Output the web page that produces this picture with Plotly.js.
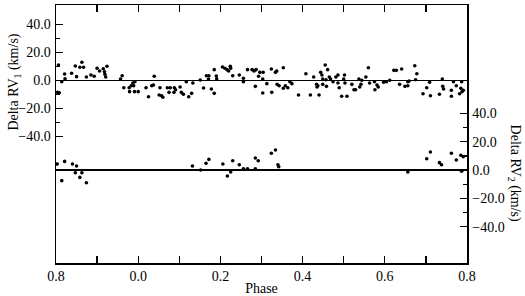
<!DOCTYPE html>
<html>
<head>
<meta charset="utf-8">
<script src="https://cdn.plot.ly/plotly-3.0.1.min.js"></script>
<style>html,body{margin:0;padding:0;background:#fff;}#chart{width:525px;height:296px;}</style>
</head>
<body>
<div id="chart"></div>
<script>
// Primary component: orbital phase and RV residuals (km/s)
const phase1 = [0.804,0.806,0.808,0.814,0.821,0.822,0.838,0.847,0.850,0.858,0.863,0.867,0.874,0.885,0.893,0.900,0.906,0.915,0.918,0.919,0.921,0.924,0.957,0.961,0.965,0.978,0.983,0.987,0.989,0.992,0.979,0.991,0.000,0.019,0.025,0.033,0.039,0.037,0.051,
0.053,0.057,0.060,0.071,0.078,0.075,0.088,0.091,0.087,0.102,0.105,0.110,0.117,0.123,0.130,0.133,0.151,0.159,0.166,0.172,0.171,0.178,0.185,0.185,0.190,0.191,0.205,0.211,0.216,0.220,0.224,0.225,0.230,0.246,0.256,0.256,0.266,0.277,0.282,0.287,0.285,0.293,0.296,0.303,
0.304,0.303,0.313,0.324,0.325,0.334,0.337,0.338,0.343,0.353,0.353,0.358,0.364,0.369,0.374,0.390,0.408,0.419,0.427,0.434,0.435,0.437,0.440,0.444,0.447,0.449,0.449,0.455,0.457,0.458,0.461,0.465,0.468,0.474,0.481,0.486,0.489,0.486,0.495,0.500,0.502,0.503,0.508,0.520,0.525,0.529,0.537,0.539,0.542,0.544,0.554,
0.560,0.563,0.575,0.576,0.581,0.584,0.597,0.604,0.612,0.622,0.628,0.636,0.641,0.649,0.656,0.656,0.659,0.673,0.675,0.678,0.693,0.702,0.709,0.711,0.733,0.740,0.741,0.743,0.762,0.762,0.767,0.774,0.782,0.785,0.787,0.788,0.791];
const dRV1 = [-8.6,10.9,-8.9,-1.0,4.5,1.0,5.0,10.2,2.6,9.3,12.9,9.3,2.4,3.8,2.9,8.6,6.6,8.3,6.1,4.3,2.4,10.0,0.9,3.3,-5.3,-5.3,-3.9,-1.9,-3.9,-1.0,-8.1,-8.1,-8.1,-5.3,-11.7,-3.9,2.9,-3.4,-10.5,
-5.3,-11.0,-12.1,-5.3,-5.3,-8.6,-5.3,-6.7,-8.6,-4.8,-8.6,-10.0,-1.0,-11.7,-9.3,-1.9,0.2,-5.5,3.3,3.3,0.9,-6.2,-9.3,7.6,3.1,1.1,9.5,8.6,7.6,6.6,10.0,8.6,3.3,3.8,1.4,-1.0,7.6,7.6,6.6,7.6,-4.3,2.9,5.7,-9.1,
5.7,0.9,-2.4,8.1,-8.6,5.7,6.6,-2.9,-3.9,9.0,-5.7,-3.9,-5.3,-1.0,-2.4,-10.5,4.7,-10.5,2.4,-2.9,-4.8,-3.9,-10.5,5.7,3.8,0.9,-2.9,10.9,0.4,-4.3,7.6,2.4,0.9,-1.0,2.4,3.8,-5.3,-1.9,-11.4,0.9,3.8,-1.9,-11.4,-2.9,-6.7,-6.7,0.9,-4.8,-2.9,0.0,2.4,
9.0,-1.9,-1.0,-6.7,-3.4,-4.8,-1.4,-1.0,0.0,7.1,7.1,-2.9,8.1,-4.3,-3.9,-1.0,-0.5,10.4,0.4,4.7,-9.6,-5.3,-1.4,-11.0,-10.0,0.9,-4.3,-6.2,-7.1,-11.4,-1.0,-3.9,-9.6,-5.7,-1.0,-8.1,-7.1];

// Secondary component
const phase2 = [0.803,0.814,0.821,0.840,0.847,0.850,0.858,0.863,0.874,0.132,0.152,0.165,0.172,0.206,0.217,0.225,0.230,0.246,0.256,0.266,0.285,0.285,0.292,0.324,0.334,0.340,0.342,0.656,0.702,0.711,0.733,0.738,0.762,0.774,0.785,0.791,0.787];
const dRV2 = [4.2,-7.5,6.1,4.2,-1.9,2.8,-5.2,-1.9,-9.0,2.8,0.0,4.7,7.5,4.2,-4.2,-1.4,6.6,3.7,0.9,0.9,0.9,8.5,6.6,11.8,14.1,3.7,2.3,-1.4,8.0,12.7,5.2,3.7,11.8,7.1,10.4,9.4,-0.9];

const xTicks = [-0.2,0.0,0.2,0.4,0.6,0.8];
const xTickText = ['0.8','0.0','0.2','0.4','0.6','0.8'];
const xMinor = [-0.1,0.1,0.3,0.5,0.7];
const yTicks = [-40,-20,0,20,40];
const yMinor = [-30,-10,10,30];

const wrap = p => (p >= 0.8 ? p - 1 : p);
const font = {family: 'Liberation Serif, Times New Roman, serif', size: 14, color: '#000'};

const traces = [
  {x: phase1.map(wrap), y: dRV1, type: 'scatter', mode: 'markers', yaxis: 'y',
   marker: {size: 3.6, color: '#000'}, hoverinfo: 'skip'},
  {x: phase2.map(wrap), y: dRV2, type: 'scatter', mode: 'markers', yaxis: 'y2',
   marker: {size: 3.6, color: '#000'}, hoverinfo: 'skip'}
];

const yCommon = {
  tickmode: 'array', tickvals: yTicks, tickformat: '.1f',
  ticks: 'inside', ticklen: 7, tickwidth: 1.3, tickcolor: '#000',
  minor: {tickmode: 'array', tickvals: yMinor, ticks: 'inside', ticklen: 4, tickwidth: 1.3, tickcolor: '#000', showgrid: false},
  showline: true, linecolor: '#000', linewidth: 1.5,
  showgrid: false, zeroline: true, zerolinecolor: '#000', zerolinewidth: 1.5,
  tickfont: font, ticklabelstandoff: 1
};

const layout = {
  width: 525, height: 296,
  margin: {l: 56, r: 58, t: 5, b: 33},
  paper_bgcolor: '#fff', plot_bgcolor: '#fff',
  showlegend: false,
  font: font,
  xaxis: {
    range: [-0.2, 0.8], tickmode: 'array', tickvals: xTicks, ticktext: xTickText,
    ticks: 'inside', ticklen: 7, tickwidth: 1.3, tickcolor: '#000',
    minor: {tickmode: 'array', tickvals: xMinor, ticks: 'inside', ticklen: 7, tickwidth: 1.3, tickcolor: '#000', showgrid: false},
    showline: true, linecolor: '#000', linewidth: 1.5, mirror: 'ticks',
    showgrid: false, zeroline: false, tickfont: font,
    title: {text: 'Phase', font: font, standoff: 2}
  },
  yaxis: Object.assign({}, yCommon, {range: [-130.5, 53.8], side: 'left'}),
  yaxis2: Object.assign({}, yCommon, {range: [-65.7, 116.6], side: 'right', overlaying: 'y'}),
  annotations: [
    {text: 'Delta RV<sub>1</sub> (km/s)', textangle: -90, xref: 'paper', yref: 'y', x: -0.1, y: -1,
     xanchor: 'center', yanchor: 'middle', showarrow: false, font: font},
    {text: 'Delta RV<sub>2</sub> (km/s)', textangle: 90, xref: 'paper', yref: 'y2', x: 1.115, y: -2,
     xanchor: 'center', yanchor: 'middle', showarrow: false, font: font}
  ]
};

Plotly.newPlot('chart', traces, layout, {staticPlot: true, displayModeBar: false});
</script>
</body>
</html>
